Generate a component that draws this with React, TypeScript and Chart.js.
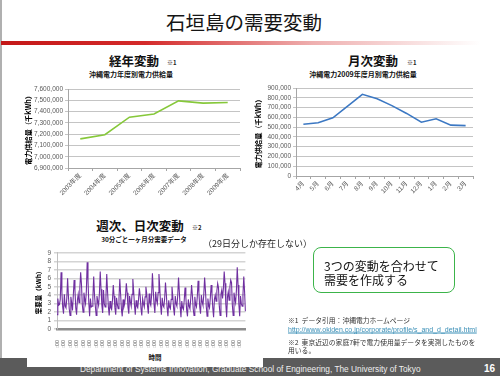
import React, { useEffect, useRef } from "react";
import { Chart, registerables } from "chart.js";
Chart.register(...registerables);

const FONT = '"Noto Sans CJK JP", "Liberation Sans", sans-serif';
const TICK_FONT = '"Liberation Sans", "Noto Sans CJK JP", sans-serif';

// 経年変動
const yearLabels = ["2003年度", "2004年度", "2005年度", "2006年度", "2007年度", "2008年度", "2009年度"];
const yearValues = [7158000, 7195000, 7350000, 7378000, 7495000, 7475000, 7480000];
const yearAxis = [6900000, 7600000, 100000];

// 月次変動
const monthLabels = ["4月", "5月", "6月", "7月", "8月", "9月", "10月", "11月", "12月", "1月", "2月", "3月"];
const monthValues = [530000, 545000, 595000, 715000, 835000, 790000, 720000, 640000, 550000, 585000, 520000, 515000];
const monthAxis = [0, 900000, 100000];

// 週次、日次変動 (29 days, sampled every 3 hours starting at 4:00)
const slotLabels = ["4:00", "7:00", "10:00", "13:00", "16:00", "19:00", "22:00", "1:00"];
const dailyDemand = [
  [1.7, 3.6, 2.8, 2.9, 3.5, 6.7, 4.3, 2.6],
  [1.8, 4.1, 2.7, 2.5, 3.6, 6.0, 3.9, 2.4],
  [1.6, 3.8, 3.1, 2.2, 4.0, 5.8, 4.6, 2.5],
  [1.7, 3.4, 4.1, 3.1, 4.8, 6.7, 5.3, 2.9],
  [2.0, 4.3, 3.5, 3.0, 4.5, 7.9, 5.7, 3.1],
  [1.5, 3.6, 2.6, 2.7, 3.7, 6.2, 4.0, 2.7],
  [1.6, 3.9, 3.3, 2.8, 4.2, 6.8, 4.7, 2.8],
  [1.9, 4.6, 3.0, 2.6, 3.8, 6.5, 4.4, 2.6],
  [1.6, 3.3, 2.5, 2.3, 3.4, 5.2, 3.9, 2.5],
  [1.7, 3.7, 2.9, 2.4, 3.6, 5.9, 4.1, 2.3],
  [1.5, 3.5, 2.6, 3.0, 3.9, 5.4, 4.3, 2.6],
  [1.8, 3.9, 3.2, 2.7, 4.1, 5.9, 4.5, 2.8],
  [1.7, 3.4, 2.7, 2.5, 3.5, 4.8, 3.9, 2.4],
  [1.6, 3.6, 3.0, 2.6, 3.8, 5.0, 4.2, 2.7],
  [1.8, 4.2, 3.1, 2.8, 4.0, 6.6, 4.6, 2.9],
  [1.9, 4.4, 3.4, 3.0, 4.3, 6.5, 4.9, 2.8],
  [1.7, 3.7, 2.8, 2.6, 3.6, 5.5, 4.2, 2.5],
  [1.5, 3.4, 2.6, 2.4, 3.5, 5.0, 3.8, 2.4],
  [1.6, 3.9, 3.0, 2.7, 3.9, 6.1, 4.4, 2.6],
  [1.4, 3.3, 2.5, 2.3, 3.4, 4.9, 3.7, 2.2],
  [1.5, 3.5, 2.7, 2.4, 3.6, 5.2, 4.0, 2.4],
  [1.6, 3.8, 2.9, 2.6, 3.8, 5.7, 4.3, 2.6],
  [1.8, 4.0, 3.2, 2.8, 4.1, 6.1, 4.6, 2.7],
  [1.5, 3.6, 2.8, 2.5, 3.7, 5.2, 4.2, 2.5],
  [1.4, 3.5, 4.0, 3.3, 4.5, 5.4, 4.9, 2.7],
  [1.6, 4.1, 4.6, 3.6, 4.8, 6.8, 5.4, 2.9],
  [1.4, 3.8, 4.4, 3.4, 5.0, 5.8, 5.5, 2.8],
  [1.6, 4.3, 3.6, 3.1, 4.6, 7.3, 5.2, 2.9],
  [1.5, 3.9, 3.0, 2.7, 4.0, 6.2, 4.4, 2.1],
];
const demandAxis = [0, 9, 1];

const demandLabels: string[] = [];
const demandValues: number[] = [];
dailyDemand.forEach((day) => {
  day.forEach((v, i) => {
    demandLabels.push(slotLabels[i]);
    demandValues.push(v);
  });
});

function ChartCanvas({ left, top, width, height, config }: any) {
  const ref = useRef<HTMLCanvasElement>(null);
  useEffect(() => {
    const chart = new Chart(ref.current as HTMLCanvasElement, config);
    return () => chart.destroy();
  }, []);
  return (
    <canvas
      ref={ref}
      width={width}
      height={height}
      style={{ position: "absolute", left, top, width, height }}
    />
  );
}

const tickFont = { family: TICK_FONT, size: 6.5 };
const fmt = (v: any) => Number(v).toLocaleString("en-US");

function lineConfig(labels: string[], values: number[], axis: number[], color: string, yWidth: number, xHeight: number) {
  return {
    type: "line",
    data: {
      labels,
      datasets: [
        { data: values, borderColor: color, borderWidth: 1.6, pointRadius: 0, tension: 0, fill: false },
      ],
    },
    options: {
      responsive: false,
      animation: false,
      events: [],
      layout: { padding: { top: 6, right: 5, left: 0, bottom: 0 } },
      plugins: { legend: { display: false }, tooltip: { enabled: false } },
      scales: {
        x: {
          offset: true,
          grid: { display: true, drawOnChartArea: false, offset: true, tickLength: 3, color: "#a6a6a6" },
          border: { color: "#a6a6a6" },
          ticks: { minRotation: 45, maxRotation: 45, autoSkip: false, font: tickFont, color: "#595959", padding: 1 },
          afterFit: (s: any) => { s.height = xHeight; },
        },
        y: {
          min: axis[0],
          max: axis[1],
          ticks: { stepSize: axis[2], autoSkip: false, font: tickFont, color: "#595959", callback: fmt, padding: 2 },
          grid: { color: "#c4c4c4", tickLength: 3 },
          border: { color: "#a6a6a6" },
          title: {
            display: true,
            text: "電力供給量（千kWh）",
            font: { family: FONT, size: 7.2, weight: "bold" },
            color: "#000",
            padding: { top: 3.5, bottom: 0 },
          },
          afterFit: (s: any) => { s.width = yWidth; },
        },
      },
    },
  };
}

const demandConfig = {
  type: "line",
  data: {
    labels: demandLabels,
    datasets: [
      { data: demandValues, borderColor: "#7030a0", borderWidth: 1.1, pointRadius: 0, tension: 0, fill: false },
    ],
  },
  options: {
    responsive: false,
    animation: false,
    events: [],
    layout: { padding: { top: 6, right: 3, left: 0, bottom: 0 } },
    plugins: { legend: { display: false }, tooltip: { enabled: false } },
    scales: {
      x: {
        grid: { display: false },
        border: { color: "#8c8c8c", width: 2.5 },
        ticks: {
          minRotation: 90,
          maxRotation: 90,
          autoSkip: false,
          font: { family: TICK_FONT, size: 5.5 },
          color: "#595959",
          padding: 3,
          callback: (_v: any, i: number) => (i % slotLabels.length === 0 ? demandLabels[i] : ""),
        },
        afterFit: (s: any) => { s.height = 19; },
      },
      y: {
        min: demandAxis[0],
        max: demandAxis[1],
        ticks: { stepSize: demandAxis[2], autoSkip: false, font: tickFont, color: "#595959", padding: 3 },
        grid: { color: "#d4d4d4", lineWidth: 1.5, tickLength: 3 },
        border: { color: "#bfbfbf" },
        title: {
          display: true,
          text: "需要量（kWh）",
          font: { family: FONT, size: 6.5, weight: "bold" },
          color: "#000",
          padding: { top: 3.5, bottom: 0 },
        },
        afterFit: (s: any) => { s.width = 26; },
      },
    },
  },
};

function Txt({ x, y, size, children, center, bold, color, style }: any) {
  return (
    <div
      style={{
        position: "absolute",
        left: x,
        top: y,
        fontSize: size,
        lineHeight: 1,
        fontFamily: FONT,
        fontWeight: bold ? "bold" : "normal",
        color: color || "#111",
        whiteSpace: "nowrap",
        transform: center ? "translate(-50%, -50%)" : "translate(0, -50%)",
        ...style,
      }}
    >
      {children}
    </div>
  );
}

export default function App() {
  return (
    <div
      style={{
        position: "fixed",
        left: 0,
        top: 0,
        width: 500,
        height: 376,
        overflow: "hidden",
        background: "#fff",
        fontFamily: FONT,
      }}
    >
      {/* left edge */}
      <div style={{ position: "absolute", left: 0, top: 0, width: 1.5, height: 376, background: "#b0b0b0" }} />
      {/* title */}
      <Txt x={244} y={22} size={19.5} center color="#151515">石垣島の需要変動</Txt>
      <div
        style={{
          position: "absolute",
          left: 1,
          top: 41,
          width: 480,
          height: 4,
          background:
            "linear-gradient(to right, #c41818 0%, #d42a2a 30%, rgba(225,110,110,0.55) 65%, rgba(255,255,255,0) 100%)",
        }}
      />

      {/* footer */}
      <div style={{ position: "absolute", left: 0, top: 358, width: 500, height: 18, background: "#5b5b5b" }} />
      <Txt x={80} y={368.5} size={8.3} color="#eeeeee" style={{ fontFamily: '"Liberation Sans", sans-serif' }}>
        Department of Systems Innovation, Graduate School of Engineering, The University of Tokyo
      </Txt>
      <Txt x={484} y={368.5} size={10} bold color="#ffffff" style={{ fontFamily: '"Liberation Sans", sans-serif' }}>
        16
      </Txt>
      <div style={{ position: "absolute", left: 27, top: 212, width: 236, height: 154.5, background: "#fff" }} />

      {/* chart 1 headings */}
      <Txt x={134} y={61} size={12.5} center bold color="#111">経年変動</Txt>
      <Txt x={167} y={62.5} size={6} bold color="#222">※1</Txt>
      <Txt x={131} y={74} size={7} center bold color="#111">沖縄電力年度別電力供給量</Txt>
      <ChartCanvas left={20} top={83} width={225} height={120} config={lineConfig(yearLabels, yearValues, yearAxis, "#86c83a", 48, 35)} />

      {/* chart 2 headings */}
      <Txt x={373} y={61} size={12.5} center bold color="#111">月次変動</Txt>
      <Txt x={407} y={62.5} size={6} bold color="#222">※1</Txt>
      <Txt x={363} y={74} size={7} center bold color="#111">沖縄電力2009年度月別電力供給量</Txt>
      <ChartCanvas left={250} top={82} width={228} height={121} config={lineConfig(monthLabels, monthValues, monthAxis, "#3c78c3", 46, 27)} />

      {/* chart 3 */}
      <Txt x={140} y={225.5} size={12.5} center bold color="#111">週次、日次変動</Txt>
      <Txt x={192} y={227.5} size={6} bold color="#222">※2</Txt>
      <Txt x={144} y={239} size={6.5} center bold color="#111">30分ごと一ヶ月分需要データ</Txt>
      <ChartCanvas left={31} top={246} width={224} height={102} config={demandConfig} />
      <Txt x={155} y={356.5} size={6.5} center bold color="#111">時間</Txt>
      <Txt x={203} y={243} size={9} color="#222">（29日分しか存在しない）</Txt>

      {/* callout */}
      <div
        style={{
          position: "absolute",
          left: 313,
          top: 247,
          width: 142,
          height: 46,
          boxSizing: "border-box",
          border: "1.5px solid #3cb44a",
          borderRadius: 8,
        }}
      />
      <Txt x={324} y={266} size={12} color="#111">3つの変動を合わせて</Txt>
      <Txt x={324} y={280} size={12} color="#111">需要を作成する</Txt>

      {/* notes */}
      <Txt x={288} y={320} size={6.8} color="#333">※1&nbsp;&nbsp;データ引用：沖縄電力ホームページ</Txt>
      <Txt
        x={288}
        y={329}
        size={7}
        color="#3a8fb7"
        style={{ fontFamily: '"Liberation Sans", sans-serif', textDecoration: "underline" }}
      >
        http://www.okiden.co.jp/corporate/profile/s_and_d_detail.html
      </Txt>
      <Txt x={288} y={342} size={6.8} color="#333">※2&nbsp;&nbsp;東京近辺の家庭7軒で電力使用量データを実測したものを</Txt>
      <Txt x={288} y={349.5} size={6.8} color="#333">用いる。</Txt>
    </div>
  );
}
